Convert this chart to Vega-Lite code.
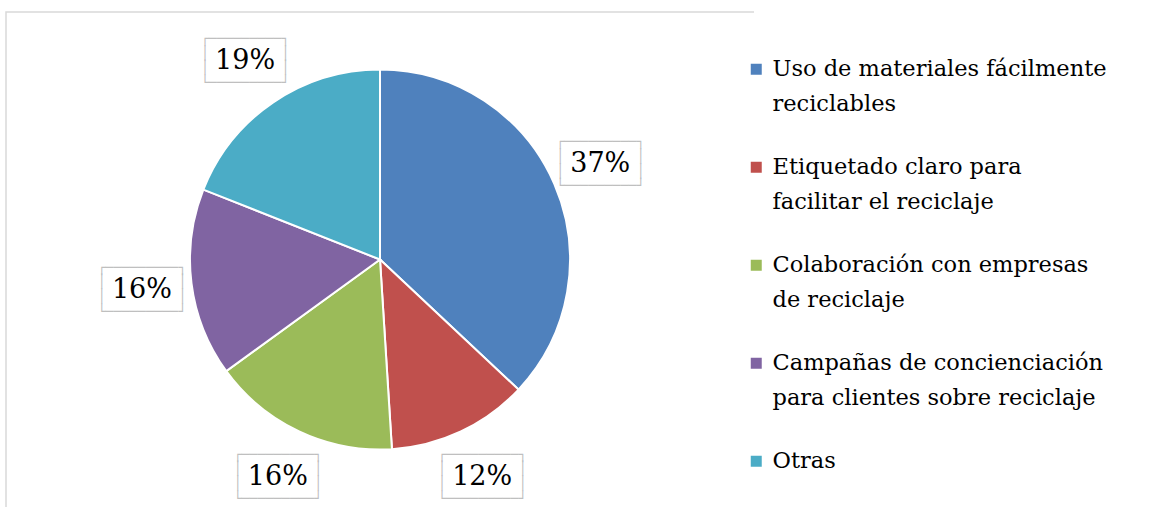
{
  "$schema": "https://vega.github.io/schema/vega-lite/v6.json",
  "width": 748,
  "height": 495,
  "autosize": {"type": "none"},
  "padding": {"left": 6, "top": 12, "right": 397, "bottom": 0},
  "background": "white",
  "view": {"stroke": "#d9d9d9", "strokeWidth": 1.5, "strokeDash": [748, 1243]},
  "config": {"style": {"guide-label": {"lineHeight": 35}}},
  "data": {"values": [
    {"categoria": "Uso de materiales fácilmente reciclables", "porcentaje": 0.37, "orden": 1},
    {"categoria": "Etiquetado claro para facilitar el reciclaje", "porcentaje": 0.12, "orden": 2},
    {"categoria": "Colaboración con empresas de reciclaje", "porcentaje": 0.16, "orden": 3},
    {"categoria": "Campañas de concienciación para clientes sobre reciclaje", "porcentaje": 0.16, "orden": 4},
    {"categoria": "Otras", "porcentaje": 0.19, "orden": 5}
  ]},
  "encoding": {
    "theta": {"field": "porcentaje", "type": "quantitative", "stack": true},
    "order": {"field": "orden", "type": "quantitative"}
  },
  "layer": [
    {
      "mark": {"type": "arc", "outerRadius": 190, "stroke": "white", "strokeWidth": 2},
      "encoding": {
        "color": {
          "field": "categoria",
          "type": "nominal",
          "scale": {
            "domain": ["Uso de materiales fácilmente reciclables", "Etiquetado claro para facilitar el reciclaje", "Colaboración con empresas de reciclaje", "Campañas de concienciación para clientes sobre reciclaje", "Otras"],
            "range": ["#4F81BD", "#C0504D", "#9BBB59", "#8064A2", "#4BACC6"]
          },
          "legend": {
            "title": null,
            "orient": "right",
            "offset": -55,
            "padding": 46,
            "symbolType": "square",
            "symbolSize": 121,
            "symbolStrokeWidth": 0,
            "labelFont": "DejaVu Serif",
            "labelFontSize": 22.5,
            "labelColor": "#000000",
            "labelLimit": 400,
            "labelOffset": 5,
            "rowPadding": 40,
            "labelExpr": "datum.label == 'Uso de materiales fácilmente reciclables' ? ['Uso de materiales fácilmente', 'reciclables'] : datum.label == 'Etiquetado claro para facilitar el reciclaje' ? ['Etiquetado claro para', 'facilitar el reciclaje'] : datum.label == 'Colaboración con empresas de reciclaje' ? ['Colaboración con empresas', 'de reciclaje'] : datum.label == 'Campañas de concienciación para clientes sobre reciclaje' ? ['Campañas de concienciación', 'para clientes sobre reciclaje'] : [datum.label, '']"
          }
        }
      }
    },
    {
      "mark": {
        "type": "text",
        "radius": 240,
        "font": "DejaVu Sans Mono",
        "fontSize": 13.4,
        "lineHeight": 14.7,
        "dy": -22,
        "align": "center",
        "baseline": "middle",
        "color": "#bfbfbf",
        "text": ["┌─────────┐", "│\u00a0\u00a0\u00a0\u00a0\u00a0\u00a0\u00a0\u00a0\u00a0│", "│\u00a0\u00a0\u00a0\u00a0\u00a0\u00a0\u00a0\u00a0\u00a0│", "└─────────┘"]
      }
    },
    {
      "mark": {
        "type": "text",
        "radius": 240,
        "font": "DejaVu Serif",
        "fontSize": 27,
        "align": "center",
        "baseline": "middle",
        "color": "#000000"
      },
      "encoding": {
        "text": {"field": "porcentaje", "type": "quantitative", "format": ".0%"}
      }
    }
  ]
}
